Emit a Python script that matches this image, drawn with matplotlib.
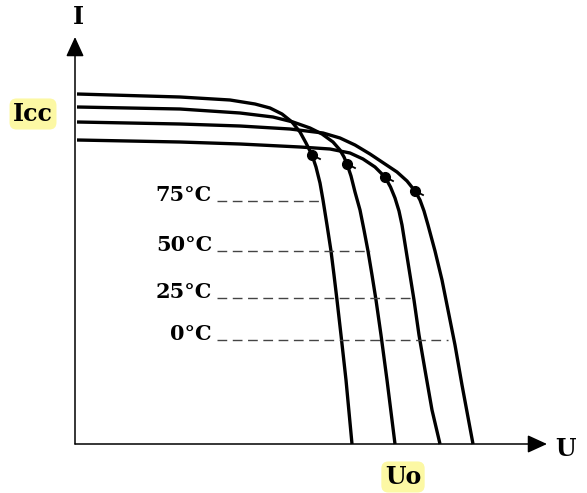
import numpy as np
import matplotlib
matplotlib.use("Agg")
import matplotlib.pyplot as plt

# I-U curves of a solar cell at four temperatures (arbitrary units)
u_75 = [0.02, 1.05, 1.55, 1.80, 1.95, 2.07, 2.17, 2.25, 2.31, 2.37, 2.41, 2.45, 2.48, 2.52,
        2.56, 2.59, 2.62, 2.66, 2.71, 2.77]
i_75 = [3.50, 3.47, 3.44, 3.40, 3.36, 3.30, 3.22, 3.12, 3.01, 2.89, 2.77, 2.61, 2.44, 2.19,
        1.93, 1.69, 1.44, 1.09, 0.64, 0.00]

u_50 = [0.02, 1.05, 1.65, 1.98, 2.18, 2.35, 2.47, 2.58, 2.65, 2.69, 2.72, 2.76, 2.80, 2.85,
        2.89, 2.93, 2.97, 3.01, 3.06, 3.12, 3.20]
i_50 = [3.37, 3.35, 3.31, 3.27, 3.22, 3.16, 3.10, 3.02, 2.94, 2.87, 2.80, 2.68, 2.52, 2.34,
        2.14, 1.93, 1.69, 1.44, 1.09, 0.64, 0.00]

u_25 = [0.02, 1.05, 1.65, 2.25, 2.55, 2.75, 2.88, 3.00, 3.10, 3.155, 3.20, 3.24, 3.27, 3.31,
        3.35, 3.39, 3.44, 3.50, 3.57, 3.65]
i_25 = [3.04, 3.02, 3.00, 2.97, 2.95, 2.91, 2.85, 2.77, 2.67, 2.57, 2.46, 2.33, 2.19, 1.94,
        1.69, 1.44, 1.09, 0.74, 0.34, 0.00]

u_0 = [0.02, 1.05, 1.65, 2.15, 2.48, 2.65, 2.80, 2.95, 3.10, 3.22, 3.32, 3.40, 3.45, 3.49,
       3.53, 3.60, 3.67, 3.73, 3.80, 3.87, 3.98]
i_0 = [3.22, 3.20, 3.18, 3.15, 3.11, 3.06, 2.99, 2.90, 2.80, 2.72, 2.63, 2.53, 2.44, 2.33,
       2.19, 1.93, 1.64, 1.34, 0.99, 0.59, 0.00]

# maximum power points
mpp_u = [2.37, 2.72, 3.10, 3.40]
mpp_i = [2.89, 2.80, 2.67, 2.53]

# temperature labels and their dashed guide lines
temp_labels = ["75°C", "50°C", "25°C", "0°C"]
temp_i = [2.43, 1.93, 1.46, 1.04]
temp_end = [2.47, 2.95, 3.38, 3.73]

fig = plt.figure(figsize=(5.87, 4.93), dpi=100)
ax = fig.add_axes([0, 0, 1, 1])
ax.set_xlim(-0.75, 5.12)
ax.set_ylim(-0.49, 4.44)
ax.axis("off")

serif = "DejaVu Serif"

# axes with arrows
arrow = dict(arrowstyle="-|>,head_length=1.2,head_width=0.55", lw=1.1,
             color="black", mutation_scale=10, shrinkA=0, shrinkB=0)
ax.annotate("", xy=(4.72, 0), xytext=(0, 0), arrowprops=arrow)
ax.annotate("", xy=(0, 4.07), xytext=(0, 0), arrowprops=arrow)
ax.text(0.03, 4.27, "I", fontsize=17, family=serif, weight="bold", ha="center", va="center")
ax.text(4.91, -0.05, "U", fontsize=17, family=serif, weight="bold", ha="center", va="center")

for u, i in [(u_75, i_75), (u_50, i_50), (u_25, i_25), (u_0, i_0)]:
    ax.plot(u, i, color="black", lw=2.4, solid_capstyle="butt", solid_joinstyle="round")

ax.plot(mpp_u, mpp_i, "o", color="black", markersize=7)
for u, i in zip(mpp_u, mpp_i):
    ax.plot([u, u + 0.08], [i, i - 0.04], color="black", lw=1.3)

for lab, i, end in zip(temp_labels, temp_i, temp_end):
    ax.plot([1.42, end], [i, i], color="#444444", lw=1.0, linestyle=(0, (7, 4)))
    ax.text(1.37, i, lab, fontsize=15, family=serif, weight="bold", ha="right", va="baseline")

hl = dict(boxstyle="round,pad=0.15,rounding_size=0.3", facecolor="#fcf8a4", edgecolor="none")
ax.text(-0.42, 3.30, "Icc", fontsize=17, family=serif, weight="bold", ha="center", va="center", bbox=hl)
ax.text(3.28, -0.33, "Uo", fontsize=17, family=serif, weight="bold", ha="center", va="center", bbox=hl)

fig.savefig("out.png", dpi=100)
